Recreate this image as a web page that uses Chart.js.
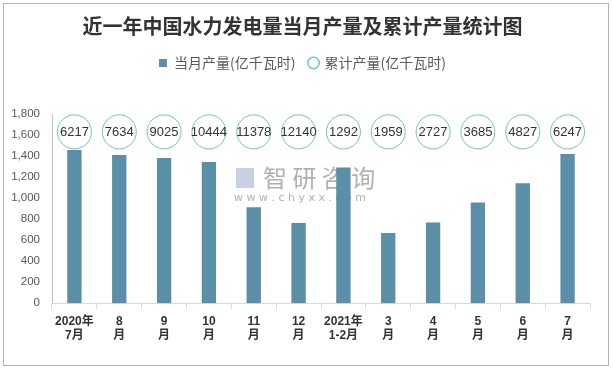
<!DOCTYPE html>
<html>
<head>
<meta charset="utf-8">
<script src="https://cdn.jsdelivr.net/npm/chart.js@4"></script>
<style>
  body { margin: 0; background: #fff; }
  #box { position: absolute; left: 3px; top: 3px; width: 604px; height: 361px; border: 1px solid #b0b0b0; }
</style>
</head>
<body>
<div id="box"><canvas id="hydroChart" width="604" height="361"></canvas></div>
<script>
const months = [['2020年', '7月'], ['8', '月'], ['9', '月'], ['10', '月'], ['11', '月'], ['12', '月'],
    ['2021年', '1-2月'], ['3', '月'], ['4', '月'], ['5', '月'], ['6', '月'], ['7', '月']];
const monthly = [1457, 1409, 1381, 1343, 914, 762, 1292, 667, 768, 958, 1142, 1420];
const cumulative = [6217, 7634, 9025, 10444, 11378, 12140, 1292, 1959, 2727, 3685, 4827, 6247];
const yTicks = [0, 200, 400, 600, 800, 1000, 1200, 1400, 1600, 1800];
const circleRow = 1630; // height of the label bubbles on the y axis

// extra room under the legend
const legendGap = {
    id: 'legendGap',
    beforeInit(chart) {
        const fit = chart.legend.fit;
        chart.legend.fit = function () {
            fit.bind(chart.legend)();
            this.height += 34;
        };
    }
};

// bubbles with the cumulative numbers, plus the watermark
const bubbleText = {
    id: 'bubbleText',
    afterDatasetsDraw(chart) {
        const ctx = chart.ctx;
        const meta = chart.getDatasetMeta(1);
        ctx.save();
        ctx.fillStyle = '#333';
        ctx.font = '13px "Liberation Sans", sans-serif';
        ctx.textAlign = 'center';
        ctx.textBaseline = 'middle';
        meta.data.forEach((pt, i) => {
            ctx.fillText(String(cumulative[i]), pt.x, pt.y + 1);
        });
        ctx.restore();
    },
    beforeDatasetsDraw(chart) {
        const ctx = chart.ctx;
        ctx.save();
        ctx.fillStyle = 'rgba(150,150,150,0.75)';
        ctx.font = '24px "Noto Sans CJK SC", sans-serif';
        ctx.textBaseline = 'middle';
        ctx.fillText('智 研 咨 询', 259, 174);
        ctx.font = '11px "DejaVu Sans", sans-serif';
        ctx.fillText('w w w . c h y x x . c o m', 230, 194);
        ctx.fillStyle = 'rgba(160,180,210,0.6)';
        ctx.fillRect(232, 164, 18, 20);
        ctx.restore();
    }
};

const config = {
    data: {
        labels: months,
        datasets: [{
            type: 'bar',
            label: '当月产量(亿千瓦时)',
            data: monthly,
            backgroundColor: '#5b8fa8',
            barPercentage: 0.64,
            categoryPercentage: 0.5,
            order: 2
        }, {
            type: 'line',
            label: '累计产量(亿千瓦时)',
            data: cumulative.map(() => circleRow),
            showLine: false,
            pointRadius: 17,
            pointHoverRadius: 17,
            pointBackgroundColor: '#fff',
            pointBorderColor: '#6cc5bd',
            pointBorderWidth: 1,
            backgroundColor: '#fff',
            borderColor: '#6cc5bd',
            order: 1
        }]
    },
    options: {
        responsive: false,
        animation: false,
        layout: { padding: { top: 10, left: 6, right: 13, bottom: 17 } },
        plugins: {
            title: {
                display: true,
                text: '近一年中国水力发电量当月产量及累计产量统计图',
                color: '#333',
                font: { size: 20, weight: 'bold', family: '"Noto Sans CJK SC", sans-serif' },
                padding: { top: 0, bottom: 4 }
            },
            legend: {
                position: 'top',
                labels: {
                    usePointStyle: true,
                    boxWidth: 8,
                    boxHeight: 8,
                    padding: 14,
                    color: '#595959',
                    font: { size: 14, family: '"Noto Sans CJK SC", sans-serif' },
                    generateLabels(chart) {
                        return chart.data.datasets.map((ds, i) => ({
                            text: ds.label,
                            fillStyle: i === 0 ? '#5b8fa8' : '#fff',
                            strokeStyle: i === 0 ? '#5b8fa8' : '#6cc5bd',
                            lineWidth: i === 0 ? 0 : 1.5,
                            pointStyle: i === 0 ? 'rect' : 'circle',
                            fontColor: '#595959',
                            datasetIndex: i
                        }));
                    }
                }
            },
            tooltip: { enabled: false }
        },
        scales: {
            x: {
                offset: true,
                grid: { display: true, drawOnChartArea: false, offset: true, tickLength: 6, color: '#d9d9d9' },
                border: { color: '#d9d9d9' },
                ticks: {
                    color: '#333',
                    autoSkip: false,
                    maxRotation: 0,
                    padding: 5,
                    font: { size: 12, weight: 'bold', family: '"Liberation Sans", "Noto Sans CJK SC", sans-serif' }
                }
            },
            y: {
                min: 0,
                max: 1800,
                afterBuildTicks(axis) {
                    axis.ticks = yTicks.map(v => ({ value: v }));
                },
                afterFit(axis) {
                    axis.width = 42;
                },
                grid: { display: false, drawTicks: false },
                border: { display: true, color: '#bfbfbf' },
                ticks: {
                    color: '#595959',
                    padding: 12,
                    font: { size: 11.5, family: '"Liberation Sans", sans-serif' },
                    callback: v => v.toLocaleString('en-US')
                }
            }
        }
    },
    plugins: [legendGap, bubbleText]
};

const hydroChart = new Chart(document.getElementById('hydroChart'), config);
</script>
</body>
</html>
